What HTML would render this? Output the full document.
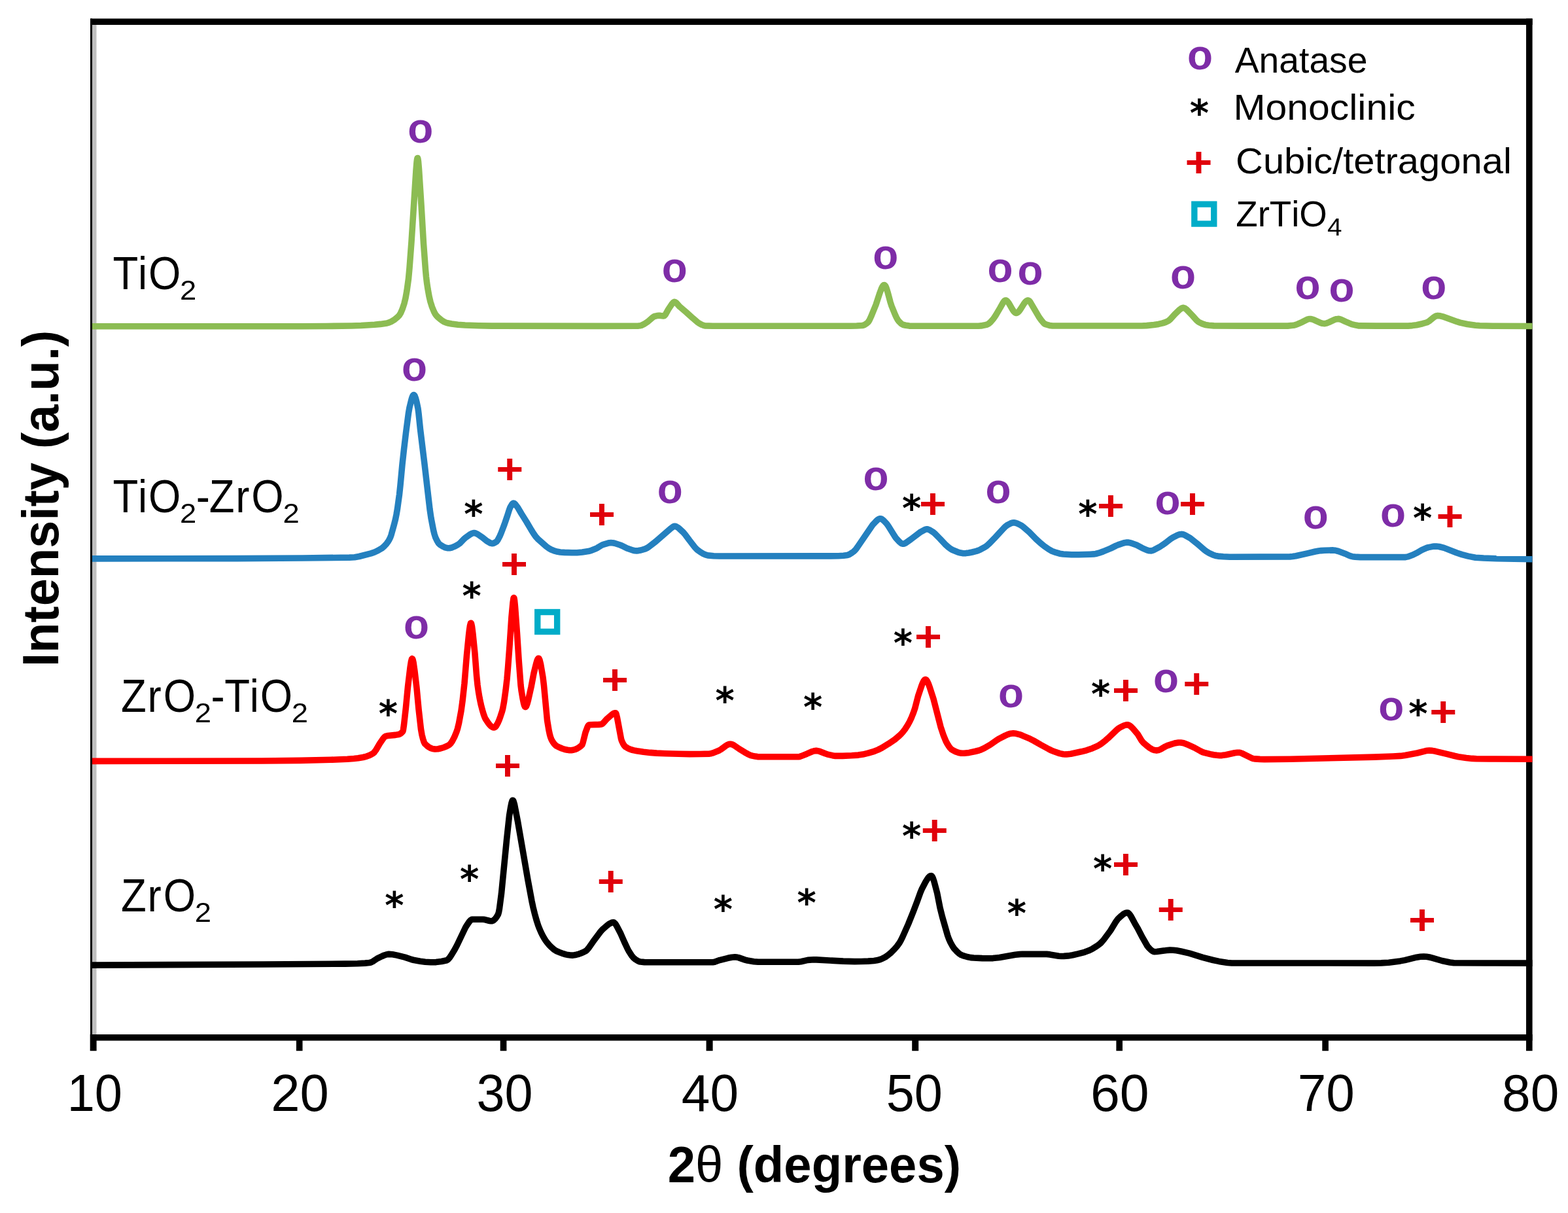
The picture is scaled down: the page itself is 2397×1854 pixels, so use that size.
<!DOCTYPE html>
<html lang="en"><head><meta charset="utf-8"><title>XRD patterns of TiO2, ZrO2 and mixed oxides</title>
<style>html,body{margin:0;padding:0;background:#fff;}body{width:2397px;height:1854px;overflow:hidden;}svg{display:block;}text{font-kerning:none;white-space:pre;}</style>
</head><body>
<svg xmlns="http://www.w3.org/2000/svg" width="2397" height="1854" viewBox="0 0 2397 1854">
<rect width="2397" height="1854" fill="#fff"/>
<rect x="141.0" y="38.0" width="6.5" height="1543.0" fill="#bfbfbf"/>
<rect x="2333.0" y="28.4" width="9.6" height="1577.8" fill="#000"/>
<g fill="none" stroke-linejoin="round" stroke-linecap="butt">
<path d="M141.0 1475.1 L401.5 1474.0 L527.5 1473.1 L546.5 1472.8 L558.0 1472.1 L564.5 1471.5 L567.0 1471.0 L570.0 1469.5 L576.5 1465.1 L584.0 1461.5 L587.5 1460.0 L590.0 1459.2 L592.5 1458.6 L594.5 1458.4 L600.0 1458.8 L607.0 1460.1 L619.0 1463.1 L629.0 1466.5 L633.0 1467.6 L642.5 1469.2 L650.0 1470.2 L658.5 1470.8 L666.5 1470.6 L675.0 1469.5 L683.0 1467.7 L685.0 1466.4 L687.5 1463.5 L690.0 1459.8 L695.0 1451.6 L698.5 1445.0 L711.5 1417.7 L713.0 1415.2 L716.5 1410.0 L718.0 1408.0 L719.5 1406.4 L721.0 1405.4 L722.0 1405.2 L738.0 1405.2 L741.0 1405.6 L748.5 1407.5 L750.5 1407.8 L752.0 1407.7 L754.0 1407.0 L756.5 1404.9 L759.0 1401.8 L761.5 1397.5 L762.5 1394.2 L763.5 1388.6 L766.5 1365.7 L774.5 1284.0 L778.5 1246.9 L780.5 1234.7 L782.0 1227.2 L783.0 1224.1 L783.5 1223.3 L784.0 1223.2 L784.5 1223.7 L785.0 1224.6 L786.5 1229.7 L791.5 1255.5 L807.0 1345.1 L813.0 1377.4 L815.0 1386.8 L817.5 1396.9 L820.0 1406.0 L822.5 1413.9 L824.0 1417.9 L827.0 1424.8 L829.5 1429.9 L832.0 1434.3 L834.0 1437.5 L836.0 1440.2 L839.5 1444.3 L842.5 1447.4 L847.0 1451.4 L851.0 1453.8 L856.5 1456.1 L861.0 1457.7 L865.0 1458.9 L868.5 1459.6 L872.0 1460.0 L875.0 1460.1 L878.0 1459.8 L881.0 1459.2 L884.5 1458.3 L888.0 1457.0 L892.5 1455.1 L895.5 1453.5 L897.5 1451.8 L899.5 1449.4 L906.5 1439.4 L915.5 1427.3 L918.0 1424.0 L920.5 1421.2 L927.5 1415.0 L931.0 1412.2 L934.5 1410.4 L936.0 1410.0 L937.5 1409.8 L938.5 1410.0 L940.0 1411.2 L941.5 1413.2 L943.0 1415.7 L949.0 1427.3 L954.5 1439.9 L959.5 1450.5 L961.5 1454.2 L965.5 1460.4 L968.5 1464.1 L971.5 1466.5 L975.5 1468.9 L977.5 1469.7 L979.0 1470.0 L985.0 1470.6 L990.5 1470.8 L1089.5 1470.8 L1092.5 1470.3 L1100.0 1467.6 L1113.0 1464.3 L1118.5 1463.2 L1123.5 1462.8 L1126.0 1463.0 L1129.0 1463.6 L1139.0 1467.1 L1142.5 1468.0 L1152.5 1469.7 L1159.0 1470.3 L1220.5 1470.2 L1224.5 1469.7 L1235.0 1467.4 L1244.0 1466.8 L1248.0 1466.9 L1289.0 1469.1 L1306.5 1469.6 L1316.5 1469.5 L1327.0 1469.1 L1336.0 1468.5 L1340.5 1467.8 L1345.5 1466.5 L1349.0 1465.1 L1353.5 1462.7 L1357.5 1459.9 L1362.5 1455.7 L1367.0 1451.2 L1371.0 1446.6 L1375.0 1441.1 L1377.0 1437.6 L1379.5 1432.6 L1388.5 1412.4 L1396.0 1393.7 L1402.0 1378.0 L1407.0 1364.1 L1409.0 1359.3 L1415.0 1347.8 L1418.0 1342.9 L1419.5 1341.0 L1421.0 1339.6 L1422.5 1338.8 L1423.5 1338.6 L1424.5 1339.1 L1425.5 1340.6 L1426.5 1342.9 L1428.0 1347.4 L1432.5 1364.4 L1437.0 1387.4 L1440.5 1401.4 L1448.5 1429.4 L1450.5 1435.0 L1453.0 1440.5 L1456.0 1446.0 L1458.5 1449.7 L1462.5 1454.1 L1466.5 1457.7 L1469.5 1459.6 L1473.0 1460.9 L1478.5 1462.5 L1484.0 1463.6 L1488.5 1464.0 L1501.5 1464.6 L1512.5 1464.8 L1518.0 1464.6 L1528.0 1463.5 L1552.0 1459.2 L1558.0 1458.6 L1563.0 1458.3 L1600.0 1458.4 L1605.0 1458.9 L1618.5 1461.2 L1622.5 1461.5 L1626.5 1461.4 L1633.0 1460.9 L1640.0 1459.7 L1648.0 1457.9 L1658.0 1455.3 L1664.0 1453.1 L1670.0 1450.2 L1676.5 1446.2 L1680.0 1443.7 L1682.0 1442.0 L1684.5 1439.5 L1687.5 1436.0 L1697.5 1422.5 L1706.0 1408.6 L1709.0 1404.5 L1714.0 1399.9 L1717.5 1397.1 L1720.5 1395.5 L1723.0 1395.0 L1724.5 1395.3 L1726.0 1396.5 L1727.5 1398.3 L1729.0 1400.6 L1734.5 1410.8 L1739.0 1418.6 L1746.5 1432.9 L1754.0 1446.0 L1755.5 1447.9 L1758.5 1451.0 L1760.5 1452.8 L1762.5 1454.1 L1764.5 1454.7 L1768.5 1454.5 L1783.5 1452.5 L1788.5 1452.1 L1793.5 1452.2 L1798.5 1452.8 L1805.0 1454.0 L1818.5 1457.1 L1838.5 1463.3 L1854.5 1467.5 L1863.5 1469.4 L1876.5 1471.5 L1883.0 1472.0 L2100.0 1472.1 L2111.5 1471.9 L2123.0 1471.2 L2140.5 1468.9 L2147.5 1467.6 L2165.5 1463.2 L2171.5 1462.3 L2176.5 1462.0 L2180.5 1462.2 L2185.0 1463.0 L2189.5 1464.1 L2204.5 1468.5 L2216.5 1471.0 L2222.5 1471.8 L2271.0 1472.0 L2342.5 1472.1" stroke="#000000" stroke-width="9.6"/>
<path d="M141.0 1163.4 L400.0 1163.0 L459.0 1162.4 L506.0 1161.3 L531.0 1160.2 L541.0 1159.5 L547.5 1158.8 L555.0 1157.5 L560.5 1156.1 L564.0 1154.8 L567.0 1153.4 L570.5 1151.3 L572.0 1150.0 L574.5 1146.7 L580.5 1136.5 L586.0 1128.5 L587.5 1126.7 L588.5 1125.9 L590.0 1125.1 L593.0 1124.5 L604.5 1123.4 L609.5 1122.5 L611.5 1121.7 L613.0 1120.8 L615.5 1118.4 L616.0 1117.2 L616.5 1114.9 L617.5 1108.0 L620.5 1081.1 L623.5 1049.6 L627.0 1020.5 L628.5 1011.0 L629.5 1007.4 L630.0 1006.8 L630.5 1007.1 L631.0 1008.1 L632.0 1012.3 L634.0 1026.3 L637.0 1051.6 L640.0 1083.7 L643.5 1114.7 L645.0 1123.1 L646.5 1129.1 L648.0 1133.8 L649.5 1136.8 L653.0 1140.0 L655.5 1141.8 L657.5 1143.0 L659.5 1143.9 L661.5 1144.5 L665.0 1145.0 L669.5 1144.7 L674.0 1143.8 L679.0 1142.2 L683.0 1140.5 L686.5 1138.6 L688.5 1136.8 L691.0 1133.4 L694.5 1126.8 L698.0 1118.4 L699.5 1113.7 L701.5 1105.3 L705.0 1086.3 L707.0 1071.9 L710.0 1044.5 L713.5 1001.3 L716.5 971.6 L717.5 962.9 L718.5 956.2 L719.5 952.6 L720.0 952.2 L720.5 953.0 L721.5 957.5 L723.0 969.4 L726.0 999.3 L728.5 1032.0 L730.0 1046.8 L731.5 1057.4 L733.0 1066.3 L735.0 1076.0 L737.0 1083.9 L739.5 1092.3 L741.0 1096.3 L742.0 1098.5 L746.5 1105.3 L748.5 1107.9 L750.5 1109.9 L752.0 1111.0 L753.5 1111.7 L755.0 1112.0 L756.0 1111.8 L757.0 1111.2 L758.5 1109.5 L761.0 1105.2 L763.0 1100.6 L765.0 1095.1 L767.5 1087.5 L768.5 1083.8 L770.5 1073.1 L773.0 1055.2 L775.0 1038.0 L776.5 1020.7 L779.0 987.4 L782.0 942.6 L784.0 921.1 L785.0 914.5 L785.5 913.5 L786.0 914.5 L786.5 917.5 L787.5 927.5 L790.5 968.3 L793.0 1007.4 L796.0 1047.2 L797.0 1055.1 L799.0 1067.3 L800.5 1074.6 L801.5 1078.1 L802.5 1080.2 L803.0 1080.6 L803.5 1080.5 L804.5 1079.4 L806.0 1075.6 L807.5 1070.0 L812.0 1050.0 L816.0 1029.0 L819.5 1014.8 L821.0 1009.7 L822.0 1007.4 L823.0 1006.3 L823.5 1006.2 L824.0 1006.7 L825.0 1008.8 L826.5 1014.8 L830.0 1035.4 L831.5 1047.9 L836.5 1100.9 L839.0 1116.0 L840.5 1122.9 L841.5 1126.5 L843.0 1130.4 L845.0 1133.9 L847.5 1137.3 L850.0 1139.7 L853.5 1141.6 L859.0 1144.0 L863.5 1145.5 L867.5 1146.3 L870.5 1146.6 L873.5 1146.7 L876.0 1146.3 L878.5 1145.7 L881.5 1144.5 L884.0 1143.1 L887.0 1141.0 L889.5 1138.9 L890.0 1138.1 L891.0 1135.4 L895.0 1119.5 L898.0 1111.5 L899.0 1109.5 L900.0 1108.2 L900.5 1108.0 L903.0 1107.8 L915.5 1107.4 L919.5 1107.0 L920.5 1106.5 L922.0 1105.2 L928.0 1098.6 L935.0 1092.5 L937.0 1091.0 L938.5 1090.2 L940.0 1089.8 L941.0 1089.7 L941.5 1090.2 L942.0 1091.2 L943.5 1097.1 L949.5 1129.4 L950.5 1132.5 L952.5 1136.7 L954.0 1139.1 L955.5 1140.9 L956.5 1141.7 L959.0 1143.2 L962.0 1144.7 L965.5 1146.0 L969.0 1146.9 L973.5 1147.8 L983.5 1149.3 L994.0 1150.4 L1004.0 1151.1 L1018.0 1151.7 L1037.5 1152.3 L1054.5 1152.6 L1070.0 1152.5 L1084.5 1152.1 L1087.0 1151.7 L1090.0 1150.9 L1099.5 1147.0 L1102.5 1145.2 L1109.0 1140.3 L1111.5 1138.7 L1114.0 1137.6 L1116.5 1137.2 L1119.0 1137.7 L1122.0 1139.1 L1130.0 1144.6 L1141.0 1151.3 L1144.5 1153.2 L1147.0 1154.3 L1150.0 1155.1 L1154.5 1156.1 L1158.0 1156.6 L1183.5 1156.8 L1220.5 1156.8 L1222.5 1156.5 L1225.0 1155.6 L1233.5 1152.2 L1242.0 1148.5 L1244.5 1147.8 L1247.0 1147.4 L1249.5 1147.6 L1252.5 1148.2 L1261.5 1151.8 L1264.5 1152.8 L1272.5 1154.7 L1277.0 1155.4 L1288.0 1155.4 L1302.0 1154.8 L1312.0 1154.1 L1319.0 1153.1 L1327.0 1151.2 L1336.5 1148.3 L1342.0 1146.1 L1348.0 1143.1 L1358.5 1136.7 L1368.0 1130.2 L1374.5 1124.8 L1377.5 1121.9 L1380.0 1119.1 L1383.5 1114.6 L1387.5 1108.4 L1390.5 1103.0 L1393.5 1096.6 L1396.0 1090.3 L1398.5 1083.2 L1403.5 1063.9 L1409.0 1047.6 L1410.5 1043.9 L1412.0 1040.9 L1413.5 1039.1 L1414.5 1038.6 L1415.0 1038.6 L1416.0 1039.2 L1417.5 1041.2 L1419.5 1045.6 L1421.5 1051.2 L1427.0 1068.3 L1438.0 1110.9 L1442.5 1124.4 L1446.0 1132.9 L1448.0 1136.6 L1450.5 1140.6 L1452.5 1143.3 L1454.5 1145.4 L1457.5 1147.2 L1462.0 1149.3 L1465.5 1150.5 L1468.5 1151.1 L1470.5 1151.3 L1474.0 1151.2 L1481.5 1150.4 L1490.5 1148.5 L1496.5 1147.0 L1499.0 1146.2 L1504.5 1143.7 L1514.0 1138.2 L1524.0 1131.1 L1528.0 1128.7 L1536.5 1124.4 L1541.0 1122.4 L1545.0 1121.2 L1549.0 1120.8 L1553.5 1121.3 L1558.5 1122.6 L1563.0 1124.3 L1574.5 1129.2 L1580.0 1132.0 L1591.5 1138.6 L1603.5 1145.1 L1607.5 1147.1 L1611.0 1148.5 L1620.0 1151.6 L1625.5 1152.8 L1628.0 1153.0 L1630.5 1152.9 L1637.0 1152.2 L1653.0 1148.8 L1661.0 1146.8 L1670.0 1143.7 L1678.0 1140.1 L1681.0 1138.4 L1683.5 1136.8 L1690.0 1131.7 L1694.0 1128.2 L1707.0 1115.8 L1710.0 1113.3 L1712.0 1112.0 L1718.0 1109.0 L1720.5 1108.2 L1723.0 1107.8 L1725.0 1108.1 L1727.0 1109.1 L1729.5 1111.1 L1732.0 1113.6 L1739.0 1121.8 L1745.0 1131.7 L1747.5 1134.9 L1753.0 1139.7 L1757.5 1143.1 L1761.0 1145.2 L1764.5 1146.6 L1768.0 1147.1 L1771.0 1146.6 L1774.0 1145.4 L1781.5 1141.0 L1784.5 1139.6 L1792.5 1137.0 L1797.0 1135.7 L1801.5 1135.0 L1805.0 1135.0 L1809.5 1135.8 L1814.5 1137.7 L1826.0 1142.9 L1835.0 1147.9 L1838.5 1149.6 L1841.0 1150.4 L1850.0 1152.6 L1855.5 1153.7 L1860.0 1154.3 L1864.5 1154.7 L1868.0 1154.6 L1874.0 1153.8 L1887.5 1150.7 L1891.5 1150.2 L1894.5 1150.2 L1896.5 1150.6 L1898.5 1151.4 L1913.5 1158.8 L1916.0 1159.6 L1918.5 1159.9 L1926.0 1160.4 L1933.0 1160.6 L1972.0 1160.2 L2100.5 1157.1 L2129.5 1156.0 L2141.0 1155.4 L2148.0 1154.5 L2166.5 1151.0 L2179.0 1147.8 L2182.0 1147.3 L2185.0 1147.1 L2189.5 1147.4 L2194.5 1148.3 L2211.5 1152.3 L2224.0 1155.5 L2229.5 1156.7 L2241.5 1158.4 L2250.5 1159.4 L2257.0 1159.8 L2277.0 1160.0 L2342.5 1160.3" stroke="#ff0000" stroke-width="9.6"/>
<path d="M141.0 853.9 L362.0 853.6 L462.5 853.0 L534.0 852.1 L542.0 851.8 L549.0 850.5 L567.0 845.9 L572.5 844.0 L577.5 841.7 L583.5 838.2 L587.0 835.3 L591.0 830.9 L593.0 828.2 L594.5 825.8 L596.5 821.9 L598.0 817.8 L602.5 801.6 L604.5 793.7 L606.0 786.4 L607.5 777.6 L610.5 755.8 L612.0 741.8 L615.0 709.8 L617.5 686.9 L620.5 661.7 L624.5 631.4 L626.0 622.9 L629.0 610.7 L630.0 607.4 L631.0 605.0 L632.0 603.7 L632.5 603.5 L633.0 603.7 L634.0 605.0 L635.5 609.0 L637.0 614.8 L639.0 624.2 L640.0 632.0 L642.5 656.3 L649.0 709.4 L657.0 778.3 L659.0 791.9 L662.5 810.0 L664.0 816.1 L665.5 820.9 L668.0 826.3 L670.5 830.4 L672.5 832.4 L677.0 835.2 L680.5 836.8 L684.0 837.7 L687.0 837.8 L690.5 837.0 L694.5 835.4 L700.0 832.5 L703.0 830.3 L709.0 824.1 L711.5 821.9 L719.5 816.3 L722.0 815.1 L724.0 814.6 L725.5 814.6 L727.0 815.0 L730.0 816.4 L737.5 821.5 L744.0 826.8 L750.0 830.2 L752.0 830.7 L754.0 830.4 L756.0 829.7 L758.5 828.2 L759.5 827.4 L761.0 825.2 L764.0 819.5 L766.0 814.9 L771.0 801.7 L775.5 788.6 L778.5 779.1 L780.0 775.2 L783.0 770.4 L784.0 769.4 L785.0 769.0 L786.0 769.3 L787.5 770.5 L791.5 775.6 L797.0 785.0 L805.0 797.7 L812.0 809.6 L815.5 815.2 L819.0 820.3 L822.0 823.6 L835.0 835.1 L839.5 838.3 L842.5 840.0 L847.0 841.8 L852.5 843.3 L856.5 844.0 L863.0 844.4 L874.0 844.8 L882.0 844.7 L890.0 844.0 L899.5 842.6 L904.0 841.3 L911.0 838.5 L913.5 837.2 L919.5 833.5 L922.0 832.3 L929.0 830.3 L931.5 829.8 L934.0 829.6 L936.5 829.7 L939.5 830.3 L948.0 833.0 L951.0 834.2 L958.5 838.0 L968.0 841.3 L970.5 841.8 L973.0 841.9 L976.0 841.6 L979.5 841.0 L986.5 838.9 L989.0 837.7 L992.0 835.7 L1002.5 827.6 L1025.5 807.6 L1029.5 804.8 L1030.5 804.3 L1031.5 804.2 L1033.5 804.7 L1036.0 806.1 L1038.5 808.1 L1044.5 813.6 L1048.0 817.8 L1054.0 825.9 L1062.0 836.2 L1065.5 840.0 L1070.5 843.6 L1075.0 846.3 L1078.5 847.9 L1082.0 848.9 L1091.0 849.7 L1100.0 850.0 L1260.5 849.9 L1281.5 849.8 L1289.5 849.2 L1295.5 848.4 L1298.0 847.6 L1302.0 845.2 L1305.0 843.0 L1306.5 841.6 L1308.5 839.3 L1310.5 836.6 L1334.0 802.3 L1339.0 796.9 L1341.5 794.6 L1343.5 793.3 L1345.5 792.7 L1346.5 792.8 L1347.5 793.1 L1349.5 794.4 L1351.5 796.3 L1355.5 800.5 L1358.0 804.0 L1367.5 819.3 L1369.5 822.2 L1375.0 828.2 L1377.0 829.9 L1378.5 830.8 L1380.0 831.3 L1381.0 831.3 L1382.5 830.9 L1384.0 830.2 L1392.5 824.3 L1407.5 812.9 L1414.0 809.4 L1416.0 808.9 L1418.0 808.9 L1420.0 809.5 L1422.0 810.5 L1426.5 813.3 L1428.5 814.9 L1437.0 823.5 L1444.5 831.6 L1449.5 836.1 L1453.0 838.8 L1456.0 840.5 L1464.0 843.8 L1468.5 845.1 L1472.5 845.7 L1476.5 845.6 L1481.0 845.0 L1486.0 844.0 L1492.5 842.4 L1495.5 841.4 L1498.5 840.1 L1505.0 836.6 L1508.5 834.2 L1513.0 830.1 L1520.0 822.9 L1534.5 807.2 L1537.5 804.3 L1540.0 802.5 L1545.0 799.9 L1547.5 799.1 L1550.0 798.8 L1552.5 799.2 L1555.5 800.3 L1561.0 803.0 L1564.0 805.1 L1573.5 813.4 L1583.5 823.6 L1590.5 830.0 L1596.5 834.9 L1603.0 839.4 L1608.0 842.2 L1614.0 844.4 L1620.0 846.2 L1625.5 847.0 L1638.0 847.7 L1649.0 847.8 L1666.5 847.2 L1672.0 846.9 L1675.0 846.5 L1680.0 845.2 L1686.5 842.9 L1698.0 838.1 L1706.0 834.1 L1709.0 832.9 L1717.5 830.0 L1720.0 829.4 L1722.5 829.1 L1724.5 829.1 L1726.5 829.4 L1731.0 830.7 L1737.5 833.1 L1746.0 837.6 L1753.5 840.8 L1757.0 841.8 L1760.0 841.9 L1762.0 841.4 L1764.0 840.6 L1772.5 836.1 L1781.5 830.0 L1789.5 823.8 L1793.0 821.5 L1798.5 818.7 L1801.5 817.4 L1804.0 816.7 L1806.5 816.4 L1808.5 816.7 L1811.0 817.7 L1819.5 822.5 L1829.5 830.4 L1841.0 840.4 L1844.0 842.6 L1848.5 845.3 L1854.0 847.9 L1858.5 849.5 L1862.0 850.1 L1870.0 850.8 L1880.0 851.2 L1972.0 850.9 L1976.0 850.5 L1981.0 849.7 L1999.5 845.6 L2010.5 843.0 L2016.0 842.0 L2019.5 841.6 L2025.0 841.3 L2038.0 840.9 L2041.5 841.3 L2046.0 842.5 L2056.0 846.2 L2063.0 849.3 L2065.5 850.2 L2067.5 850.7 L2071.5 851.1 L2079.5 851.6 L2148.5 851.6 L2152.0 850.9 L2160.0 848.0 L2165.5 845.3 L2173.5 840.7 L2181.0 837.4 L2183.5 836.6 L2189.0 835.6 L2192.5 835.1 L2195.5 835.0 L2200.0 835.5 L2207.5 837.4 L2227.0 845.0 L2235.0 847.6 L2244.5 850.1 L2255.5 852.2 L2268.0 853.0 L2287.5 853.8 L2342.5 854.7" stroke="#2480bf" stroke-width="9.6"/>
<path d="M141.0 498.7 L460.0 498.7 L499.0 498.5 L537.5 498.0 L552.0 497.5 L572.5 496.2 L581.5 495.4 L591.5 494.0 L595.0 492.9 L598.0 491.6 L602.5 488.9 L607.0 485.3 L610.5 481.8 L612.5 478.5 L615.0 472.7 L618.0 463.7 L620.0 455.3 L622.0 444.1 L624.5 426.0 L626.0 409.6 L629.0 369.7 L636.0 260.3 L637.0 248.1 L637.5 244.0 L638.0 241.7 L638.5 241.5 L639.0 243.4 L639.5 247.0 L640.5 258.6 L644.0 313.0 L647.5 372.3 L650.5 412.4 L651.5 423.3 L652.5 431.7 L654.0 441.7 L656.0 452.8 L658.0 461.4 L660.5 469.2 L663.5 476.5 L665.0 479.4 L666.5 481.7 L669.0 484.3 L672.5 487.4 L675.5 489.7 L678.5 491.6 L681.5 493.0 L684.0 493.8 L690.5 495.0 L700.0 496.2 L711.0 497.0 L731.5 497.7 L752.0 498.1 L914.0 498.4 L972.0 498.3 L976.0 498.1 L979.0 497.7 L980.5 497.3 L984.5 495.4 L990.5 491.5 L997.5 485.4 L999.0 484.3 L1000.5 483.5 L1003.5 482.8 L1007.0 482.3 L1009.5 482.4 L1014.0 482.9 L1015.0 482.9 L1015.5 482.7 L1016.5 481.8 L1017.5 480.4 L1021.5 473.2 L1027.5 464.2 L1029.5 462.1 L1031.0 461.4 L1032.0 461.6 L1033.5 462.5 L1039.0 468.7 L1049.5 477.6 L1059.0 486.2 L1066.5 492.6 L1069.0 494.3 L1073.0 496.4 L1075.5 497.4 L1077.5 497.9 L1089.5 498.3 L1300.0 498.2 L1309.5 498.0 L1318.0 497.5 L1319.5 497.2 L1321.0 496.7 L1323.0 495.6 L1325.0 494.3 L1327.0 492.5 L1329.0 489.5 L1331.5 484.1 L1339.0 465.7 L1345.0 447.6 L1347.5 441.0 L1349.0 438.0 L1350.0 436.6 L1351.0 435.8 L1352.0 435.6 L1352.5 435.9 L1353.5 437.0 L1354.5 439.0 L1355.5 441.7 L1357.0 446.6 L1361.0 461.6 L1363.0 467.8 L1368.5 481.2 L1370.5 485.5 L1372.0 488.2 L1373.5 490.4 L1375.5 492.6 L1377.5 494.5 L1379.5 495.9 L1381.0 496.5 L1384.5 497.3 L1390.0 498.1 L1495.5 498.2 L1500.0 497.9 L1504.5 497.1 L1509.0 496.0 L1511.0 495.0 L1514.0 492.5 L1518.5 487.4 L1522.0 482.2 L1529.0 470.4 L1533.5 462.3 L1535.0 460.3 L1536.0 459.4 L1537.0 459.0 L1538.0 459.1 L1539.0 459.7 L1540.0 460.5 L1542.5 463.9 L1547.5 472.6 L1549.5 475.7 L1551.5 477.8 L1552.5 478.3 L1553.5 478.5 L1554.5 478.3 L1555.5 477.8 L1556.5 477.0 L1558.0 475.4 L1560.0 472.6 L1565.0 464.7 L1567.5 461.4 L1569.5 459.7 L1570.5 459.2 L1571.5 459.0 L1573.0 459.6 L1575.0 461.8 L1588.5 484.9 L1592.5 490.3 L1595.0 493.3 L1597.0 495.0 L1599.5 496.0 L1604.5 497.4 L1609.0 498.0 L1745.5 498.0 L1753.0 497.6 L1764.0 496.5 L1771.0 495.4 L1777.5 493.9 L1782.0 492.4 L1786.0 490.5 L1789.0 488.0 L1796.0 480.2 L1803.5 473.1 L1806.5 471.0 L1808.0 470.5 L1809.0 470.4 L1810.0 470.6 L1811.5 471.2 L1814.0 473.1 L1823.0 482.5 L1829.0 489.2 L1831.0 491.1 L1832.5 492.2 L1838.0 494.9 L1842.5 496.4 L1848.0 497.2 L1855.5 497.9 L1903.0 498.1 L1968.5 498.1 L1976.5 497.3 L1979.0 496.9 L1981.0 496.4 L1983.5 495.4 L1991.0 492.1 L1998.0 488.4 L2001.0 487.5 L2003.5 487.5 L2006.5 488.1 L2009.5 489.3 L2018.5 493.4 L2021.5 494.3 L2024.0 494.6 L2026.0 494.5 L2028.5 493.8 L2031.5 492.6 L2040.0 488.6 L2043.0 487.7 L2045.5 487.4 L2047.5 487.6 L2050.0 488.4 L2057.0 491.6 L2066.5 495.6 L2073.0 497.1 L2077.5 497.9 L2104.5 498.1 L2152.5 498.1 L2159.0 497.6 L2165.5 496.7 L2174.5 494.7 L2180.5 493.0 L2182.5 492.2 L2184.5 491.0 L2191.5 485.3 L2193.5 483.9 L2196.0 482.7 L2198.0 482.4 L2201.5 482.8 L2205.5 483.8 L2227.5 491.7 L2232.0 493.1 L2243.0 495.5 L2255.5 497.3 L2262.0 497.8 L2282.0 498.3 L2342.5 498.5" stroke="#8cbc53" stroke-width="9.6"/>
</g>
<rect x="138.0" y="28.4" width="3.0" height="1562.2" fill="#000"/>
<rect x="138.0" y="28.4" width="2204.6" height="9.6" fill="#000"/>
<rect x="138.0" y="1581.0" width="2204.6" height="9.6" fill="#000"/>
<rect x="137.7" y="1581.0" width="9.9" height="25.2" fill="#000"/>
<rect x="452.9" y="1581.0" width="9.6" height="25.2" fill="#000"/>
<rect x="764.7" y="1581.0" width="9.7" height="25.2" fill="#000"/>
<rect x="1079.6" y="1581.0" width="10.0" height="25.2" fill="#000"/>
<rect x="1394.2" y="1581.0" width="10.0" height="25.2" fill="#000"/>
<rect x="1706.4" y="1581.0" width="9.6" height="25.2" fill="#000"/>
<rect x="2021.3" y="1581.0" width="9.6" height="25.2" fill="#000"/>
<text transform="translate(102.73 1698.40) scale(0.9585 1.0000)" font-family='"Liberation Sans", sans-serif' font-weight="normal" font-size="79.00" fill="#000">10</text>
<text transform="translate(414.20 1698.40) scale(1.0073 1.0000)" font-family='"Liberation Sans", sans-serif' font-weight="normal" font-size="79.00" fill="#000">20</text>
<text transform="translate(728.46 1698.40) scale(0.9783 1.0000)" font-family='"Liberation Sans", sans-serif' font-weight="normal" font-size="79.00" fill="#000">30</text>
<text transform="translate(1041.80 1698.40) scale(0.9931 1.0000)" font-family='"Liberation Sans", sans-serif' font-weight="normal" font-size="79.00" fill="#000">40</text>
<text transform="translate(1354.70 1698.40) scale(0.9801 1.0000)" font-family='"Liberation Sans", sans-serif' font-weight="normal" font-size="79.00" fill="#000">50</text>
<text transform="translate(1666.90 1698.40) scale(1.0214 1.0000)" font-family='"Liberation Sans", sans-serif' font-weight="normal" font-size="79.00" fill="#000">60</text>
<text transform="translate(1983.69 1698.40) scale(0.9909 1.0000)" font-family='"Liberation Sans", sans-serif' font-weight="normal" font-size="79.00" fill="#000">70</text>
<text transform="translate(2296.09 1698.40) scale(0.9920 1.0000)" font-family='"Liberation Sans", sans-serif' font-weight="normal" font-size="79.00" fill="#000">80</text>
<text transform="translate(1020.76 1806.7) scale(0.9973 1.03)" font-family='"Liberation Sans", sans-serif' font-weight="bold" font-size="76.3" fill="#000">2<tspan font-weight="normal">θ</tspan> (degrees)</text>
<text transform="translate(88.5 1019.08) rotate(-90) scale(0.9987 1.02)" font-family='"Liberation Sans", sans-serif' font-weight="bold" font-size="76.0" fill="#000">Intensity (a.u.)</text>
<text transform="translate(172.44 441.60) scale(0.9000 1.0000)" font-family='"Liberation Sans", sans-serif' font-weight="normal" font-size="70.50" fill="#000">T</text>
<text transform="translate(211.07 441.60) scale(0.9000 1.0000)" font-family='"Liberation Sans", sans-serif' font-weight="normal" font-size="70.50" fill="#000">i</text>
<text transform="translate(227.09 441.60) scale(0.9000 1.0000)" font-family='"Liberation Sans", sans-serif' font-weight="normal" font-size="70.50" fill="#000">O</text>
<text transform="translate(275.04 457.90) scale(1.0800 1.0000)" font-family='"Liberation Sans", sans-serif' font-weight="normal" font-size="42.00" fill="#000">2</text>
<text transform="translate(172.44 782.90) scale(0.9000 1.0000)" font-family='"Liberation Sans", sans-serif' font-weight="normal" font-size="70.50" fill="#000">T</text>
<text transform="translate(211.07 782.90) scale(0.9000 1.0000)" font-family='"Liberation Sans", sans-serif' font-weight="normal" font-size="70.50" fill="#000">i</text>
<text transform="translate(227.09 782.90) scale(0.9000 1.0000)" font-family='"Liberation Sans", sans-serif' font-weight="normal" font-size="70.50" fill="#000">O</text>
<text transform="translate(275.04 799.20) scale(1.0800 1.0000)" font-family='"Liberation Sans", sans-serif' font-weight="normal" font-size="42.00" fill="#000">2</text>
<text transform="translate(299.69 782.90) scale(0.9000 1.0000)" font-family='"Liberation Sans", sans-serif' font-weight="normal" font-size="70.50" fill="#000">-</text>
<text transform="translate(319.71 782.90) scale(0.9000 1.0000)" font-family='"Liberation Sans", sans-serif' font-weight="normal" font-size="70.50" fill="#000">Z</text>
<text transform="translate(360.21 782.90) scale(0.9000 1.0000)" font-family='"Liberation Sans", sans-serif' font-weight="normal" font-size="70.50" fill="#000">r</text>
<text transform="translate(384.34 782.90) scale(0.9000 1.0000)" font-family='"Liberation Sans", sans-serif' font-weight="normal" font-size="70.50" fill="#000">O</text>
<text transform="translate(432.44 799.20) scale(1.0800 1.0000)" font-family='"Liberation Sans", sans-serif' font-weight="normal" font-size="42.00" fill="#000">2</text>
<text transform="translate(185.11 1087.90) scale(0.9000 1.0000)" font-family='"Liberation Sans", sans-serif' font-weight="normal" font-size="70.50" fill="#000">Z</text>
<text transform="translate(225.61 1087.90) scale(0.9000 1.0000)" font-family='"Liberation Sans", sans-serif' font-weight="normal" font-size="70.50" fill="#000">r</text>
<text transform="translate(249.74 1087.90) scale(0.9000 1.0000)" font-family='"Liberation Sans", sans-serif' font-weight="normal" font-size="70.50" fill="#000">O</text>
<text transform="translate(297.84 1104.20) scale(1.0800 1.0000)" font-family='"Liberation Sans", sans-serif' font-weight="normal" font-size="42.00" fill="#000">2</text>
<text transform="translate(322.54 1087.90) scale(0.9000 1.0000)" font-family='"Liberation Sans", sans-serif' font-weight="normal" font-size="70.50" fill="#000">-</text>
<text transform="translate(343.14 1087.90) scale(0.9000 1.0000)" font-family='"Liberation Sans", sans-serif' font-weight="normal" font-size="70.50" fill="#000">T</text>
<text transform="translate(381.77 1087.90) scale(0.9000 1.0000)" font-family='"Liberation Sans", sans-serif' font-weight="normal" font-size="70.50" fill="#000">i</text>
<text transform="translate(397.79 1087.90) scale(0.9000 1.0000)" font-family='"Liberation Sans", sans-serif' font-weight="normal" font-size="70.50" fill="#000">O</text>
<text transform="translate(445.74 1104.20) scale(1.0800 1.0000)" font-family='"Liberation Sans", sans-serif' font-weight="normal" font-size="42.00" fill="#000">2</text>
<text transform="translate(185.11 1392.90) scale(0.9000 1.0000)" font-family='"Liberation Sans", sans-serif' font-weight="normal" font-size="70.50" fill="#000">Z</text>
<text transform="translate(225.61 1392.90) scale(0.9000 1.0000)" font-family='"Liberation Sans", sans-serif' font-weight="normal" font-size="70.50" fill="#000">r</text>
<text transform="translate(249.74 1392.90) scale(0.9000 1.0000)" font-family='"Liberation Sans", sans-serif' font-weight="normal" font-size="70.50" fill="#000">O</text>
<text transform="translate(297.84 1409.20) scale(1.0800 1.0000)" font-family='"Liberation Sans", sans-serif' font-weight="normal" font-size="42.00" fill="#000">2</text>
<text transform="translate(1814.91 106.47) scale(0.6382 0.6498)" font-family='"Liberation Sans", sans-serif' font-weight="bold" font-size="100" fill="#7e2ca7">o</text>
<text transform="translate(1887.69 110.60) scale(0.9802 1.0000)" font-family='"Liberation Sans", sans-serif' font-weight="normal" font-size="56.40" fill="#000">Anatase</text>
<text transform="translate(1818.78 192.62) scale(0.5591 0.5728)" font-family='"DejaVu Sans", sans-serif' font-weight="bold" font-size="100" fill="#000">*</text>
<text transform="translate(1885.47 182.80) scale(1.0448 1.0000)" font-family='"Liberation Sans", sans-serif' font-weight="normal" font-size="56.40" fill="#000">Monoclinic</text>
<text transform="translate(1811.49 270.11) scale(0.7179 0.6498)" font-family='"Liberation Sans", sans-serif' font-weight="bold" font-size="100" fill="#e0000b">+</text>
<text transform="translate(1889.06 264.80) scale(1.0268 1.0000)" font-family='"Liberation Sans", sans-serif' font-weight="normal" font-size="56.40" fill="#000">Cubic/tetragonal</text>
<rect x="1825.85" y="312.15" width="29.90" height="29.90" fill="none" stroke="#00acc8" stroke-width="9.4"/>
<text transform="translate(1889.27 345.90) scale(0.9692 1.0000)" font-family='"Liberation Sans", sans-serif' font-weight="normal" font-size="56.40" fill="#000">ZrTiO</text>
<text transform="translate(2028.97 359.90) scale(1.0800 1.0000)" font-family='"Liberation Sans", sans-serif' font-weight="normal" font-size="37.50" fill="#000">4</text>
<text transform="translate(623.21 218.37) scale(0.6382 0.6498)" font-family='"Liberation Sans", sans-serif' font-weight="bold" font-size="100" fill="#7e2ca7">o</text>
<text transform="translate(1011.71 431.27) scale(0.6382 0.6498)" font-family='"Liberation Sans", sans-serif' font-weight="bold" font-size="100" fill="#7e2ca7">o</text>
<text transform="translate(1334.21 411.27) scale(0.6382 0.6498)" font-family='"Liberation Sans", sans-serif' font-weight="bold" font-size="100" fill="#7e2ca7">o</text>
<text transform="translate(1509.51 431.27) scale(0.6382 0.6498)" font-family='"Liberation Sans", sans-serif' font-weight="bold" font-size="100" fill="#7e2ca7">o</text>
<text transform="translate(1555.41 434.57) scale(0.6382 0.6498)" font-family='"Liberation Sans", sans-serif' font-weight="bold" font-size="100" fill="#7e2ca7">o</text>
<text transform="translate(1788.91 441.47) scale(0.6382 0.6498)" font-family='"Liberation Sans", sans-serif' font-weight="bold" font-size="100" fill="#7e2ca7">o</text>
<text transform="translate(1979.41 457.37) scale(0.6382 0.6498)" font-family='"Liberation Sans", sans-serif' font-weight="bold" font-size="100" fill="#7e2ca7">o</text>
<text transform="translate(2031.61 460.97) scale(0.6382 0.6498)" font-family='"Liberation Sans", sans-serif' font-weight="bold" font-size="100" fill="#7e2ca7">o</text>
<text transform="translate(2172.31 457.37) scale(0.6382 0.6498)" font-family='"Liberation Sans", sans-serif' font-weight="bold" font-size="100" fill="#7e2ca7">o</text>
<text transform="translate(613.91 581.97) scale(0.6382 0.6498)" font-family='"Liberation Sans", sans-serif' font-weight="bold" font-size="100" fill="#7e2ca7">o</text>
<text transform="translate(1004.81 769.27) scale(0.6382 0.6498)" font-family='"Liberation Sans", sans-serif' font-weight="bold" font-size="100" fill="#7e2ca7">o</text>
<text transform="translate(1319.41 749.37) scale(0.6382 0.6498)" font-family='"Liberation Sans", sans-serif' font-weight="bold" font-size="100" fill="#7e2ca7">o</text>
<text transform="translate(1506.51 769.27) scale(0.6382 0.6498)" font-family='"Liberation Sans", sans-serif' font-weight="bold" font-size="100" fill="#7e2ca7">o</text>
<text transform="translate(1765.51 785.77) scale(0.6382 0.6498)" font-family='"Liberation Sans", sans-serif' font-weight="bold" font-size="100" fill="#7e2ca7">o</text>
<text transform="translate(1991.81 808.37) scale(0.6382 0.6498)" font-family='"Liberation Sans", sans-serif' font-weight="bold" font-size="100" fill="#7e2ca7">o</text>
<text transform="translate(2109.91 805.07) scale(0.6382 0.6498)" font-family='"Liberation Sans", sans-serif' font-weight="bold" font-size="100" fill="#7e2ca7">o</text>
<text transform="translate(616.91 975.87) scale(0.6382 0.6498)" font-family='"Liberation Sans", sans-serif' font-weight="bold" font-size="100" fill="#7e2ca7">o</text>
<text transform="translate(1526.01 1081.17) scale(0.6382 0.6498)" font-family='"Liberation Sans", sans-serif' font-weight="bold" font-size="100" fill="#7e2ca7">o</text>
<text transform="translate(1763.01 1057.87) scale(0.6382 0.6498)" font-family='"Liberation Sans", sans-serif' font-weight="bold" font-size="100" fill="#7e2ca7">o</text>
<text transform="translate(2107.21 1100.87) scale(0.6382 0.6498)" font-family='"Liberation Sans", sans-serif' font-weight="bold" font-size="100" fill="#7e2ca7">o</text>
<text transform="translate(758.29 738.91) scale(0.7179 0.6498)" font-family='"Liberation Sans", sans-serif' font-weight="bold" font-size="100" fill="#e0000b">+</text>
<text transform="translate(898.89 808.11) scale(0.7179 0.6498)" font-family='"Liberation Sans", sans-serif' font-weight="bold" font-size="100" fill="#e0000b">+</text>
<text transform="translate(1404.99 791.61) scale(0.7179 0.6498)" font-family='"Liberation Sans", sans-serif' font-weight="bold" font-size="100" fill="#e0000b">+</text>
<text transform="translate(1676.99 794.91) scale(0.7179 0.6498)" font-family='"Liberation Sans", sans-serif' font-weight="bold" font-size="100" fill="#e0000b">+</text>
<text transform="translate(1801.89 791.61) scale(0.7179 0.6498)" font-family='"Liberation Sans", sans-serif' font-weight="bold" font-size="100" fill="#e0000b">+</text>
<text transform="translate(2195.49 811.41) scale(0.7179 0.6498)" font-family='"Liberation Sans", sans-serif' font-weight="bold" font-size="100" fill="#e0000b">+</text>
<text transform="translate(764.89 883.61) scale(0.7179 0.6498)" font-family='"Liberation Sans", sans-serif' font-weight="bold" font-size="100" fill="#e0000b">+</text>
<text transform="translate(918.99 1060.81) scale(0.7179 0.6498)" font-family='"Liberation Sans", sans-serif' font-weight="bold" font-size="100" fill="#e0000b">+</text>
<text transform="translate(1398.09 994.91) scale(0.7179 0.6498)" font-family='"Liberation Sans", sans-serif' font-weight="bold" font-size="100" fill="#e0000b">+</text>
<text transform="translate(1699.99 1077.01) scale(0.7179 0.6498)" font-family='"Liberation Sans", sans-serif' font-weight="bold" font-size="100" fill="#e0000b">+</text>
<text transform="translate(1808.19 1067.41) scale(0.7179 0.6498)" font-family='"Liberation Sans", sans-serif' font-weight="bold" font-size="100" fill="#e0000b">+</text>
<text transform="translate(2185.29 1110.01) scale(0.7179 0.6498)" font-family='"Liberation Sans", sans-serif' font-weight="bold" font-size="100" fill="#e0000b">+</text>
<text transform="translate(754.99 1192.21) scale(0.7179 0.6498)" font-family='"Liberation Sans", sans-serif' font-weight="bold" font-size="100" fill="#e0000b">+</text>
<text transform="translate(912.69 1369.21) scale(0.7179 0.6498)" font-family='"Liberation Sans", sans-serif' font-weight="bold" font-size="100" fill="#e0000b">+</text>
<text transform="translate(1407.69 1290.71) scale(0.7179 0.6498)" font-family='"Liberation Sans", sans-serif' font-weight="bold" font-size="100" fill="#e0000b">+</text>
<text transform="translate(1699.99 1342.91) scale(0.7179 0.6498)" font-family='"Liberation Sans", sans-serif' font-weight="bold" font-size="100" fill="#e0000b">+</text>
<text transform="translate(1768.69 1411.81) scale(0.7179 0.6498)" font-family='"Liberation Sans", sans-serif' font-weight="bold" font-size="100" fill="#e0000b">+</text>
<text transform="translate(2152.89 1428.31) scale(0.7179 0.6498)" font-family='"Liberation Sans", sans-serif' font-weight="bold" font-size="100" fill="#e0000b">+</text>
<text transform="translate(709.18 806.12) scale(0.5591 0.5728)" font-family='"DejaVu Sans", sans-serif' font-weight="bold" font-size="100" fill="#000">*</text>
<text transform="translate(1378.98 796.52) scale(0.5591 0.5728)" font-family='"DejaVu Sans", sans-serif' font-weight="bold" font-size="100" fill="#000">*</text>
<text transform="translate(1648.18 806.12) scale(0.5591 0.5728)" font-family='"DejaVu Sans", sans-serif' font-weight="bold" font-size="100" fill="#000">*</text>
<text transform="translate(2160.08 812.42) scale(0.5591 0.5728)" font-family='"DejaVu Sans", sans-serif' font-weight="bold" font-size="100" fill="#000">*</text>
<text transform="translate(706.38 930.92) scale(0.5591 0.5728)" font-family='"DejaVu Sans", sans-serif' font-weight="bold" font-size="100" fill="#000">*</text>
<text transform="translate(578.68 1110.72) scale(0.5591 0.5728)" font-family='"DejaVu Sans", sans-serif' font-weight="bold" font-size="100" fill="#000">*</text>
<text transform="translate(1093.48 1091.02) scale(0.5591 0.5728)" font-family='"DejaVu Sans", sans-serif' font-weight="bold" font-size="100" fill="#000">*</text>
<text transform="translate(1228.08 1101.12) scale(0.5591 0.5728)" font-family='"DejaVu Sans", sans-serif' font-weight="bold" font-size="100" fill="#000">*</text>
<text transform="translate(1365.78 1002.52) scale(0.5591 0.5728)" font-family='"DejaVu Sans", sans-serif' font-weight="bold" font-size="100" fill="#000">*</text>
<text transform="translate(1667.98 1081.32) scale(0.5591 0.5728)" font-family='"DejaVu Sans", sans-serif' font-weight="bold" font-size="100" fill="#000">*</text>
<text transform="translate(2153.28 1110.72) scale(0.5591 0.5728)" font-family='"DejaVu Sans", sans-serif' font-weight="bold" font-size="100" fill="#000">*</text>
<text transform="translate(588.28 1403.52) scale(0.5591 0.5728)" font-family='"DejaVu Sans", sans-serif' font-weight="bold" font-size="100" fill="#000">*</text>
<text transform="translate(702.88 1363.72) scale(0.5591 0.5728)" font-family='"DejaVu Sans", sans-serif' font-weight="bold" font-size="100" fill="#000">*</text>
<text transform="translate(1090.78 1409.82) scale(0.5591 0.5728)" font-family='"DejaVu Sans", sans-serif' font-weight="bold" font-size="100" fill="#000">*</text>
<text transform="translate(1218.48 1399.92) scale(0.5591 0.5728)" font-family='"DejaVu Sans", sans-serif' font-weight="bold" font-size="100" fill="#000">*</text>
<text transform="translate(1378.98 1298.32) scale(0.5591 0.5728)" font-family='"DejaVu Sans", sans-serif' font-weight="bold" font-size="100" fill="#000">*</text>
<text transform="translate(1539.68 1416.42) scale(0.5591 0.5728)" font-family='"DejaVu Sans", sans-serif' font-weight="bold" font-size="100" fill="#000">*</text>
<text transform="translate(1670.98 1347.72) scale(0.5591 0.5728)" font-family='"DejaVu Sans", sans-serif' font-weight="bold" font-size="100" fill="#000">*</text>
<rect x="821.75" y="935.55" width="29.90" height="29.90" fill="none" stroke="#00acc8" stroke-width="9.4"/>
</svg></body></html>
